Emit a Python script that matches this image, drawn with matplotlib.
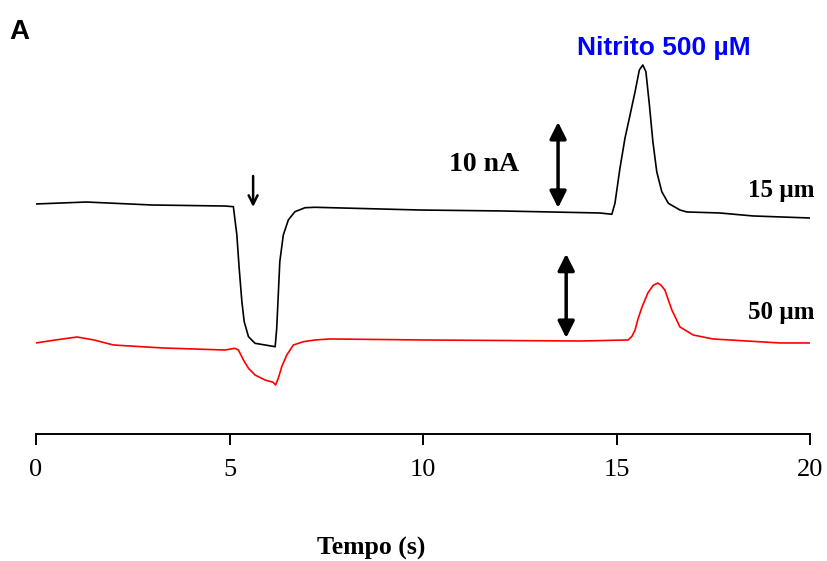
import matplotlib
matplotlib.use("Agg")
import matplotlib.pyplot as plt

# Time (s) and current (nA, arbitrary offset)
t_15 = [0.0, 1.3, 3.0, 4.88, 5.10, 5.19, 5.25, 5.32, 5.38, 5.49, 5.66, 5.92, 6.18, 6.22, 6.26, 6.30,
        6.39, 6.52, 6.69, 6.95, 7.21, 9.92, 12.0, 14.57, 14.88, 14.96, 15.09, 15.22, 15.35, 15.48,
        15.59, 15.68, 15.76, 15.85, 15.94, 16.04, 16.17, 16.34, 16.64, 16.82, 17.67, 18.53, 20.0]
i_15 = [27.06, 27.29, 26.94, 26.82, 26.74, 23.41, 19.49, 15.56, 13.21, 11.45, 10.67, 10.47, 10.27,
        12.44, 16.35, 20.27, 23.41, 25.18, 26.15, 26.62, 26.67, 26.35, 26.24, 26.0, 25.85, 27.14,
        31.29, 34.82, 37.53, 40.27, 42.82, 43.41, 42.62, 38.71, 34.39, 30.86, 28.51, 27.14, 26.35,
        26.12, 26.0, 25.65, 25.41]

t_50 = [0.0, 0.5, 1.06, 1.5, 2.0, 3.28, 4.88, 5.14, 5.23, 5.36, 5.49, 5.66, 5.92, 6.13, 6.19, 6.26,
        6.35, 6.48, 6.65, 6.91, 7.21, 7.60, 10.0, 14.06, 15.30, 15.40, 15.48, 15.56, 15.66, 15.81,
        15.95, 16.07, 16.15, 16.25, 16.43, 16.64, 16.98, 17.49, 18.37, 19.22, 20.0]
i_50 = [10.71, 11.06, 11.41, 11.06, 10.47, 10.12, 9.88, 10.08, 9.88, 8.71, 7.73, 6.94, 6.35, 6.08,
        5.76, 6.55, 7.92, 9.29, 10.47, 10.86, 11.06, 11.18, 11.06, 10.94, 11.06, 11.5, 12.24, 13.6,
        14.94, 16.59, 17.5, 17.76, 17.5, 16.94, 14.59, 12.59, 11.65, 11.18, 10.94, 10.71, 10.71]

x_ticks = [0, 5, 10, 15, 20]
x_label = "Tempo (s)"
label_15 = "15 µm"
label_50 = "50 µm"
scale_label = "10 nA"
title_label = "Nitrito 500 µM"
panel_label = "A"

W, H = 827, 561
fig = plt.figure(figsize=(W / 100, H / 100), dpi=100)
ax = fig.add_axes([36 / W, 1 - 434 / H, (810 - 36) / W, (434 - 40) / H])

ax.plot(t_15, i_15, color="black", lw=1.2, solid_joinstyle="round")
ax.plot(t_50, i_50, color="red", lw=1.2, solid_joinstyle="round")

ax.set_xlim(0, 20)
ax.set_ylim(0, 46.35)
for s in ["top", "right", "left"]:
    ax.spines[s].set_visible(False)
ax.spines["bottom"].set_linewidth(1.4)
ax.set_yticks([])
ax.set_xticks(x_ticks)
ax.tick_params(axis="x", direction="out", length=8, width=1.4, pad=10)
serif = "Liberation Serif"
for lab in ax.get_xticklabels():
    lab.set_fontfamily(serif)
    lab.set_fontsize(19)

fig.text(371 / W, 1 - 548 / H, x_label, ha="center", va="center",
         fontfamily=serif, fontweight="bold", fontsize=18.5)
fig.text(9 / W, 1 - 32 / H, panel_label, ha="left", va="center",
         fontfamily="Liberation Sans", fontweight="bold", fontsize=20)

ax.text(16.23, 45.41, title_label, ha="center", va="center", color="#0000ff",
        fontfamily="Liberation Sans", fontweight="bold", fontsize=19, clip_on=False)
ax.text(11.58, 31.65, scale_label, ha="center", va="center",
        fontfamily=serif, fontweight="bold", fontsize=20)
ax.text(19.25, 28.7, label_15, ha="center", va="center",
        fontfamily=serif, fontweight="bold", fontsize=18)
ax.text(19.25, 14.35, label_50, ha="center", va="center",
        fontfamily=serif, fontweight="bold", fontsize=18)

arrow_kw = dict(arrowstyle="<|-|>", color="black", lw=2.5, mutation_scale=25,
                shrinkA=0, shrinkB=0)
ax.annotate("", xy=(13.49, 36.7), xytext=(13.49, 26.6), arrowprops=arrow_kw)
ax.annotate("", xy=(13.70, 21.2), xytext=(13.70, 11.3), arrowprops=arrow_kw)
ax.annotate("", xy=(5.61, 26.7), xytext=(5.61, 30.35),
            arrowprops=dict(arrowstyle="->", color="black", lw=1.8, mutation_scale=16,
                            shrinkA=0, shrinkB=0))

fig.savefig("out.png", dpi=100)
